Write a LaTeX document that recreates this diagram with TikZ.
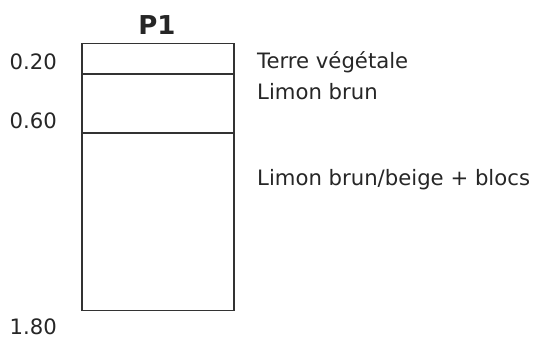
\documentclass[tikz,border=0pt]{standalone}
\usepackage{fontspec}
\setmainfont{DejaVu Sans}
\begin{document}
\begin{tikzpicture}[x=1pt,y=-1pt,
  lbl/.style={font=\fontsize{21.2}{24}\selectfont, text=black!85, inner sep=0pt},
  layer/.style={draw=black!80, line width=1.8pt}]
\useasboundingbox[fill=white] (0,0) rectangle (536,343);
\node[layer, minimum width=152pt, minimum height=267pt, inner sep=0pt, anchor=north west] (box) at (81,42.5) {};
\coordinate (l1) at (81,74);
\coordinate (r1) at (233,74);
\coordinate (l2) at (81,133);
\coordinate (r2) at (233,133);
\draw[layer] (l1) -- (r1);
\draw[layer] (l2) -- (r2);
\node[lbl, font=\bfseries\fontsize{26}{30}\selectfont, anchor=center] (p1) at (157,25) {P1};
\node[lbl, anchor=east] (d1) at (57,62) {0.20};
\node[lbl, anchor=east] (d2) at (57,121) {0.60};
\node[lbl, anchor=east] (d3) at (57,327) {1.80};
\node[lbl, anchor=west] (t1) at (257,62) {Terre végétale};
\node[lbl, anchor=west] (t2) at (257,92) {Limon brun};
\node[lbl, anchor=west] (t3) at (257,180) {Limon brun/beige + blocs};
\end{tikzpicture}
\end{document}
